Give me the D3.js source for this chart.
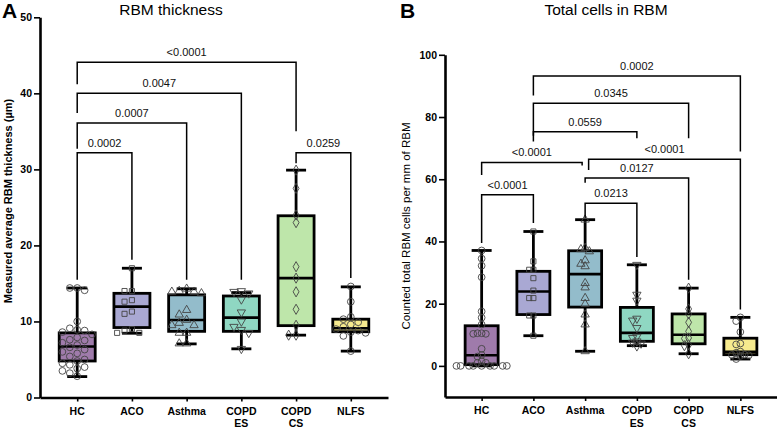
<!DOCTYPE html>
<html><head><meta charset="utf-8">
<script src="https://cdn.jsdelivr.net/npm/d3@7"></script>
<style>
html,body{margin:0;padding:0;background:#fff;}
svg{display:block;font-family:"Liberation Sans",Arial,sans-serif;}
</style></head>
<body><svg id="c" width="777" height="430"></svg>
<script>
// ---------- DATA ----------
const categories = ["HC","ACO","Asthma","COPD ES","COPD CS","NLFS"];
const boxColors = ["#9f7bab","#a9a8d3","#93bccb","#8fd7c2","#bee6aa","#f6ea8e"];
const markerShapes = ["circle","square","triangle","triangleDown","diamond","circle"];

// Panel A: RBM thickness (µm)
const thickMin    = [2.75, 8.45, 7.05, 6.4, 8.2, 6.1];
const thickQ1     = [4.8, 9.2, 8.7, 8.7, 9.45, 8.65];
const thickMedian = [6.7, 11.95, 10.2, 10.5, 15.7, 9.1];
const thickQ3     = [8.5, 13.7, 13.5, 13.35, 23.9, 10.3];
const thickMax    = [14.4, 17.0, 14.3, 13.8, 29.9, 14.55];
const thickHC     = [14.4,14.4,14.1,10.0,9.1,8.9,8.8,8.6,8.3,7.9,7.6,7.5,7.2,6.9,6.6,6.3,6.0,5.8,5.4,5.0,4.8,4.5,4.3,4.0,3.8,3.5,3.2,2.8];
const thickACO    = [17.0,14.0,14.0,12.8,12.6,11.3,11.0,9.0,8.8,8.5,8.5];
const thickAsthma = [14.3,14.0,13.9,13.9,13.7,11.5,10.9,10.2,9.8,9.5,9.5,8.5,8.5,7.1,7.1];
const thickCOPDES = [14.0,13.9,13.7,12.9,11.2,10.0,9.3,8.9,8.5,6.4];
const thickCOPDCS = [29.9,27.5,24.0,23.0,17.2,15.7,13.9,11.6,9.5,8.2,8.2];
const thickNLFS   = [14.6,12.6,10.6,10.3,9.9,9.6,9.3,9.0,8.8,8.6,8.5,8.1,6.1];
const thickTicks  = [0,10,20,30,40,50];
// [from, to, level, fromLegEnd, toLegEnd, p-value]
const thickBrackets = [
  ["HC","ACO",32.2,15.5,18.1,"0.0002"],
  ["HC","Asthma",36.1,32.7,15.5,"0.0007"],
  ["HC","COPD ES",40.0,37.4,15.5,"0.0047"],
  ["HC","COPD CS",44.1,41.2,35.0,"<0.0001"],
  ["COPD CS","NLFS",32.2,30.8,15.7,"0.0259"]
];

// Panel B: total cells per mm of RBM
const cellsMin    = [0, 9.7, 4.7, 6.5, 3.9, 2.2];
const cellsQ1     = [0.4, 16.5, 18.9, 7.9, 7.1, 3.6];
const cellsMedian = [3.4, 23.9, 29.5, 10.6, 10.0, 4.5];
const cellsQ3     = [12.9, 30.4, 37.0, 18.8, 16.7, 8.9];
const cellsMax    = [37.1, 43.2, 47.0, 32.5, 25.0, 15.6];
const cellsHC     = [37.1,34.5,32.2,28.5,17.5,15.5,13.3,10.5,10.5,10.3,10.3,5.5,3.5,3.0,1.5,1.0,1.0,0,0,0,0,0,0,0,0,0];
const cellsACO    = [43.2,33.6,30.9,30.9,28.2,24.2,21.8,21.8,16.2,16.2,9.7];
const cellsAsthma = [47.0,37.9,37.5,36.8,33.9,32.8,32.0,26.6,25.2,21.8,19.9,16.5,13.3,4.7];
const cellsCOPDES = [32.5,22.9,21.0,15.2,14.6,12.2,9.4,9.0,7.9,7.5,7.2,6.3];
const cellsCOPDCS = [25.0,18.3,16.7,14.0,11.1,9.0,8.8,6.8,6.5,3.9];
const cellsNLFS   = [15.6,14.4,10.9,7.2,6.9,4.6,4.2,3.6,3.5,3.4,3.2,2.2];
const cellsTicks  = [0,20,40,60,80,100];
const cellsBrackets = [
  ["HC","ACO",55.0,39.5,45.9,"<0.0001"],
  ["HC","Asthma",65.4,61.4,64.4,"<0.0001"],
  ["ACO","COPD ES",75.3,72.1,73.2,"0.0559"],
  ["ACO","COPD CS",84.4,74.0,73.2,"0.0345"],
  ["ACO","NLFS",93.2,86.9,68.9,"0.0002"],
  ["Asthma","NLFS",66.4,63.0,18.1,"<0.0001"],
  ["Asthma","COPD CS",60.4,58.9,27.7,"0.0127"],
  ["Asthma","COPD ES",52.3,47.5,35.0,"0.0213"]
];

// ---------- LAYOUT (pixels) ----------
const svg = d3.select("#c");
const FONT = '"Liberation Sans",Arial,sans-serif';

function drawPanel(o){
  const g = svg.append("g");
  const x = d3.scalePoint().domain(categories).range([o.x0, o.x1]).padding(o.pad);
  const y = d3.scaleLinear().domain(o.yDomain).range([o.yBottom, o.yTop]);

  // y axis
  const ya = g.append("g").attr("transform",`translate(${o.x0},0)`)
    .call(d3.axisLeft(y).tickValues(o.ticks).tickSize(6).tickSizeOuter(0).tickPadding(2));
  ya.select(".domain").attr("stroke","#000").attr("stroke-width",2.6);
  ya.selectAll(".tick line").attr("stroke","#000").attr("stroke-width",1.6);
  ya.selectAll(".tick text").attr("font-family",FONT).attr("font-weight","bold").attr("font-size",10.5).attr("fill","#000");

  // x axis
  const xa = g.append("g").attr("transform",`translate(0,${o.yBottom})`)
    .call(d3.axisBottom(x).tickSize(4).tickSizeOuter(0).tickFormat(""));
  xa.select(".domain").attr("stroke","#000").attr("stroke-width",2.6);
  xa.selectAll(".tick line").attr("stroke","#000").attr("stroke-width",1.6);
  categories.forEach(c=>{
    const t = g.append("text").attr("x",x(c)).attr("y",o.yBottom+17)
      .attr("text-anchor","middle").attr("font-family",FONT).attr("font-weight","bold").attr("font-size",10.5).attr("fill","#000");
    c.split(" ").forEach((w,i)=>t.append("tspan").attr("x",x(c)).attr("dy",i?12.5:0).text(w));
  });

  // boxes
  categories.forEach((c,i)=>{
    const cx = x(c);
    const bw = o.boxW, cw = o.capW;
    g.append("line").attr("x1",cx).attr("x2",cx).attr("y1",y(o.max[i])).attr("y2",y(o.q3[i])).attr("stroke","#000").attr("stroke-width",2.8);
    g.append("line").attr("x1",cx).attr("x2",cx).attr("y1",y(o.q1[i])).attr("y2",y(o.min[i])).attr("stroke","#000").attr("stroke-width",2.8);
    g.append("line").attr("x1",cx-cw/2).attr("x2",cx+cw/2).attr("y1",y(o.max[i])).attr("y2",y(o.max[i])).attr("stroke","#000").attr("stroke-width",2.8);
    g.append("line").attr("x1",cx-cw/2).attr("x2",cx+cw/2).attr("y1",y(o.min[i])).attr("y2",y(o.min[i])).attr("stroke","#000").attr("stroke-width",2.8);
    g.append("rect").attr("x",cx-bw/2).attr("width",bw).attr("y",y(o.q3[i])).attr("height",y(o.q1[i])-y(o.q3[i]))
      .attr("fill",boxColors[i]).attr("stroke","#000").attr("stroke-width",2.8);
    g.append("line").attr("x1",cx-bw/2).attr("x2",cx+bw/2).attr("y1",y(o.median[i])).attr("y2",y(o.median[i])).attr("stroke","#000").attr("stroke-width",2.6);
  });

  // points (beeswarm layout)
  const symType = {circle:d3.symbolCircle,square:d3.symbolSquare,triangle:d3.symbolTriangle,triangleDown:d3.symbolTriangle,diamond:d3.symbolDiamond};
  const symSize = {circle:36,square:26,triangle:30,triangleDown:30,diamond:30};
  categories.forEach((c,i)=>{
    const vals = o.points[i].slice().sort((a,b)=>b-a);
    const placed = [];
    const minD = o.swarmD, step = o.swarmStep;
    vals.forEach(v=>{
      const py = y(v);
      let dx = 0;
      for(let k=0;k<40;k++){
        const cand = k===0?0:(k%2? -1:1)*Math.ceil(k/2)*step;
        if(placed.every(p=>Math.hypot(p[0]-cand,p[1]-py)>=minD)){dx=cand;break;}
      }
      placed.push([dx,py]);
      const sh = markerShapes[i];
      g.append("path").attr("d",d3.symbol().type(symType[sh]).size(symSize[sh])())
        .attr("transform",`translate(${x(c)+dx},${py})${sh==="triangleDown"?" rotate(180)":""}`)
        .attr("fill","none").attr("stroke","#444").attr("stroke-width",0.9);
    });
  });

  // brackets
  o.brackets.forEach(b=>{
    const [f,t,lv,fe,te,lab] = b;
    const xf = x(f) + (o.nudge[lab+f+t]||[0,0])[0];
    const xt = x(t) + (o.nudge[lab+f+t]||[0,0])[1];
    g.append("path").attr("d",`M${xf},${y(fe)}V${y(lv)}H${xt}V${y(te)}`)
      .attr("fill","none").attr("stroke","#000").attr("stroke-width",1.5);
    g.append("text").attr("x",(xf+xt)/2).attr("y",y(lv)-6).attr("text-anchor","middle")
      .attr("font-family",FONT).attr("font-size",11).attr("fill","#111").text(lab);
  });

  // titles
  svg.append("text").attr("x",o.titleX).attr("y",15).attr("text-anchor","middle")
    .attr("font-family",FONT).attr("font-size",15.5).attr("fill","#000").text(o.title);
  svg.append("text").attr("x",o.letterX).attr("y",18).attr("font-family",FONT)
    .attr("font-weight","bold").attr("font-size",21).attr("fill","#000").text(o.letter);
  svg.append("text").attr("transform",`translate(${o.yTitleX},${o.yTitleY}) rotate(-90)`).attr("text-anchor","middle")
    .attr("font-family",FONT).attr("font-weight",o.yTitleWeight).attr("font-size",o.yTitleSize).attr("fill","#000").text(o.yTitle);
}

drawPanel({
  x0:40, x1:388, pad:0.68, yDomain:[0,50], yBottom:397.5, yTop:17.3, ticks:thickTicks,
  boxW:36, capW:20, swarmD:7.2, swarmStep:7.4,
  min:thickMin, q1:thickQ1, median:thickMedian, q3:thickQ3, max:thickMax,
  points:[thickHC,thickACO,thickAsthma,thickCOPDES,thickCOPDCS,thickNLFS],
  brackets:thickBrackets, nudge:{},
  title:"RBM thickness", titleX:171, letter:"A", letterX:2,
  yTitle:"Measured average RBM thickness (µm)", yTitleX:12, yTitleY:201, yTitleWeight:"bold", yTitleSize:11
});
drawPanel({
  x0:445, x1:777, pad:0.708, yDomain:[-10,100], yBottom:397, yTop:54.8, ticks:cellsTicks,
  boxW:33, capW:20, swarmD:4.2, swarmStep:4.2,
  min:cellsMin, q1:cellsQ1, median:cellsMedian, q3:cellsQ3, max:cellsMax,
  points:[cellsHC,cellsACO,cellsAsthma,cellsCOPDES,cellsCOPDCS,cellsNLFS],
  brackets:cellsBrackets, nudge:{"<0.0001HCAsthma":[0,-3],"<0.0001AsthmaNLFS":[3.5,0]},
  title:"Total cells in RBM", titleX:606, letter:"B", letterX:400,
  yTitle:"Counted total RBM cells per mm of RBM", yTitleX:410, yTitleY:226, yTitleWeight:"normal", yTitleSize:11.5
});
</script></body></html>
